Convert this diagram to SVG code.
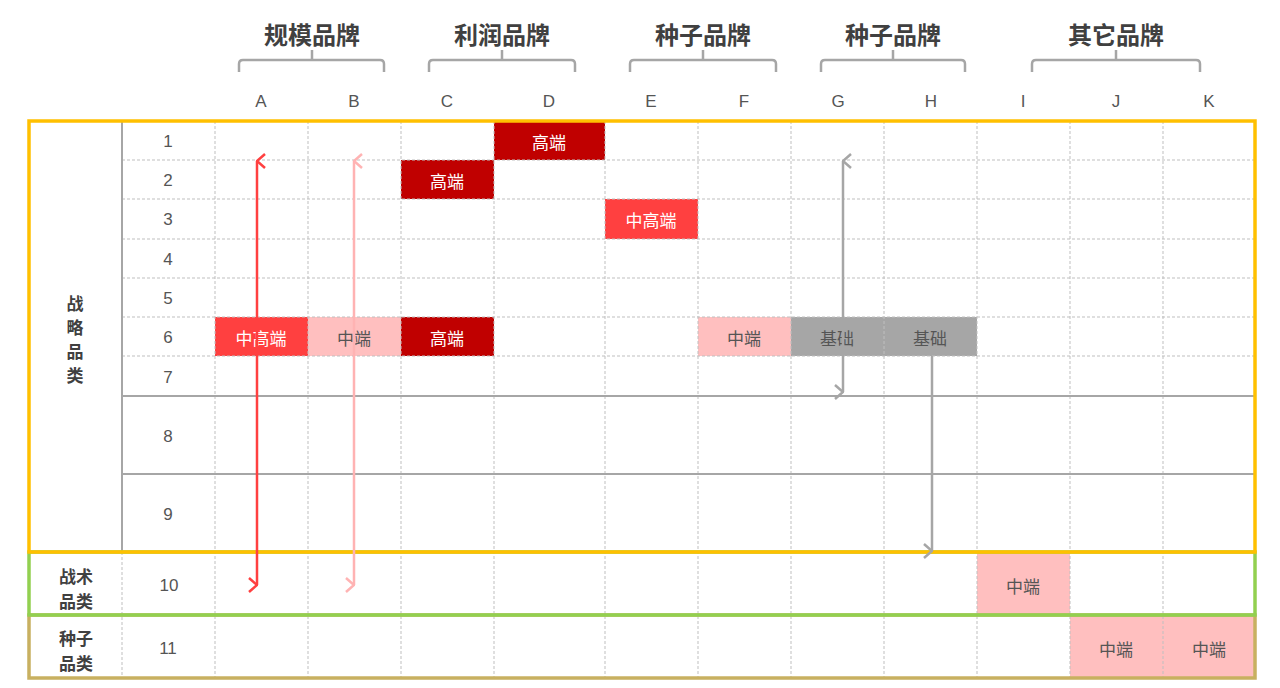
<svg xmlns="http://www.w3.org/2000/svg" width="1280" height="688" viewBox="0 0 1280 688">
<style>
text{font-family:"Noto Sans CJK SC","Noto Sans",sans-serif;text-anchor:middle;dominant-baseline:central}
.t{font-size:24px;font-weight:bold;fill:#404040}
.c{font-size:17px;fill:#555;font-family:"Liberation Sans","Noto Sans CJK SC",sans-serif}
.n{font-size:17px;fill:#555;font-family:"Liberation Sans","Noto Sans CJK SC",sans-serif}
.l{font-size:17px;font-weight:bold;fill:#404040}
.dash{stroke:#BFBFBF;stroke-width:1;stroke-dasharray:3 2;fill:none}
.solid{stroke:#A6A6A6;stroke-width:2;fill:none}
.br{stroke:#A6A6A6;stroke-width:2.5;fill:none}
.w{font-size:17px;fill:#fff}
.d{font-size:17px;fill:#555}
.dr{fill:#C00000}.r{fill:#FF4040}.p{fill:#FFBFBF}.g{fill:#A6A6A6}
</style>
<defs>
<marker id="ar" viewBox="0 0 12 12" refX="6" refY="1" markerWidth="12" markerHeight="12" orient="auto-start-reverse" markerUnits="userSpaceOnUse"><path d="M1,7 L6,1 L11,7" fill="none" stroke="context-stroke" stroke-width="2"/></marker>
<marker id="ar2" viewBox="0 0 16 16" refX="8" refY="1" markerWidth="16" markerHeight="16" orient="auto-start-reverse" markerUnits="userSpaceOnUse"><path d="M1,9 L8,1 L15,9" fill="none" stroke="context-stroke" stroke-width="2.5"/></marker>
</defs>
<rect width="1280" height="688" fill="#fff"/>
<g id="headers">
<text class="t" x="312" y="33">规模品牌</text>
<text class="t" x="502" y="33">利润品牌</text>
<text class="t" x="703" y="33">种子品牌</text>
<text class="t" x="893" y="33">种子品牌</text>
<text class="t" x="1116" y="33">其它品牌</text>
<path class="br" d="M239,72 V64 Q239,60 243,60 H380 Q384,60 384,64 V72 M312,60 V50"/>
<path class="br" d="M429,72 V64 Q429,60 433,60 H571 Q575,60 575,64 V72 M502,60 V50"/>
<path class="br" d="M630,72 V64 Q630,60 634,60 H772 Q776,60 776,64 V72 M703,60 V50"/>
<path class="br" d="M821,72 V64 Q821,60 825,60 H961 Q965,60 965,64 V72 M893,60 V50"/>
<path class="br" d="M1032,72 V64 Q1032,60 1036,60 H1196 Q1200,60 1200,64 V72 M1116,60 V50"/>
<g class="c">
<text class="c" x="261" y="101">A</text><text class="c" x="354" y="101">B</text><text class="c" x="447" y="101">C</text><text class="c" x="549" y="101">D</text><text class="c" x="651" y="101">E</text><text class="c" x="744" y="101">F</text><text class="c" x="838" y="101">G</text><text class="c" x="931" y="101">H</text><text class="c" x="1023" y="101">I</text><text class="c" x="1116" y="101">J</text><text class="c" x="1209" y="101">K</text>
</g>
</g>
<g id="cells">
<rect class="dr" x="494" y="121" width="111" height="39"/><text class="w" x="549" y="141">高端</text>
<rect class="dr" x="401" y="160" width="93" height="39"/><text class="w" x="447" y="180">高端</text>
<rect class="r" x="605" y="199" width="93" height="40"/><text class="w" x="651" y="219">中高端</text>
<rect class="r" x="215" y="317" width="93" height="39"/><text class="w" x="261" y="337">中高端</text>
<rect class="p" x="308" y="317" width="93" height="39"/><text class="d" x="354" y="337">中端</text>
<rect class="dr" x="401" y="317" width="93" height="39"/><text class="w" x="447" y="337">高端</text>
<rect class="p" x="698" y="317" width="93" height="39"/><text class="d" x="744" y="337">中端</text>
<rect class="g" x="791" y="317" width="186" height="39"/><text class="d" x="837" y="337">基础</text><text class="d" x="930" y="337">基础</text>
<rect class="p" x="977" y="552" width="93" height="63"/><text class="d" x="1023" y="585">中端</text>
<rect class="p" x="1070" y="615" width="185" height="63"/><text class="d" x="1116" y="648">中端</text><text class="d" x="1209" y="648">中端</text>
</g>
<g id="grid">
<path class="dash" d="M122,160H1255M122,199H1255M122,239H1255M122,278H1255M122,317H1255M122,356H1255"/>
<path class="dash" d="M215,121V678M308,121V678M401,121V678M494,121V678M605,121V678M698,121V678M791,121V678M884,121V678M977,121V678M1070,121V678M1163,121V678M122,552V678"/>
<path class="solid" d="M122,121V552M122,396H1255M122,474H1255"/>
<text class="n" x="168" y="141">1</text><text class="n" x="168" y="180">2</text><text class="n" x="168" y="219">3</text><text class="n" x="168" y="259">4</text><text class="n" x="168" y="298">5</text><text class="n" x="168" y="337">6</text><text class="n" x="168" y="377">7</text><text class="n" x="168" y="436">8</text><text class="n" x="168" y="514">9</text><text class="n" x="169" y="585">10</text><text class="n" x="168" y="648">11</text>
</g>
<g id="groups">
<rect x="29" y="615" width="1226" height="63" fill="none" stroke="#C8B060" stroke-width="3.5"/>
<rect x="29" y="552" width="1226" height="63" fill="none" stroke="#92D050" stroke-width="3.5"/>
<rect x="29" y="121" width="1226" height="431" fill="none" stroke="#FFC000" stroke-width="3.5"/>
<text class="l" x="75" y="302">战</text><text class="l" x="75" y="326">略</text><text class="l" x="75" y="350">品</text><text class="l" x="75" y="374">类</text>
<text class="l" x="76" y="575">战术</text><text class="l" x="76" y="600">品类</text>
<text class="l" x="76" y="637">种子</text><text class="l" x="76" y="662">品类</text>
</g>
<g id="connectors" fill="none">
<line x1="257" y1="161" x2="257" y2="585" stroke="#FF4040" stroke-width="2.5" marker-start="url(#ar2)" marker-end="url(#ar2)"/>
<line x1="354" y1="161" x2="354" y2="585" stroke="#FFB3B3" stroke-width="2.5" marker-start="url(#ar2)" marker-end="url(#ar2)"/>
<line x1="843" y1="161" x2="843" y2="392" stroke="#A6A6A6" stroke-width="2.5" marker-start="url(#ar2)" marker-end="url(#ar2)"/>
<line x1="932" y1="356" x2="932" y2="551" stroke="#A6A6A6" stroke-width="2.5" marker-end="url(#ar2)"/>
</g>
</svg>
